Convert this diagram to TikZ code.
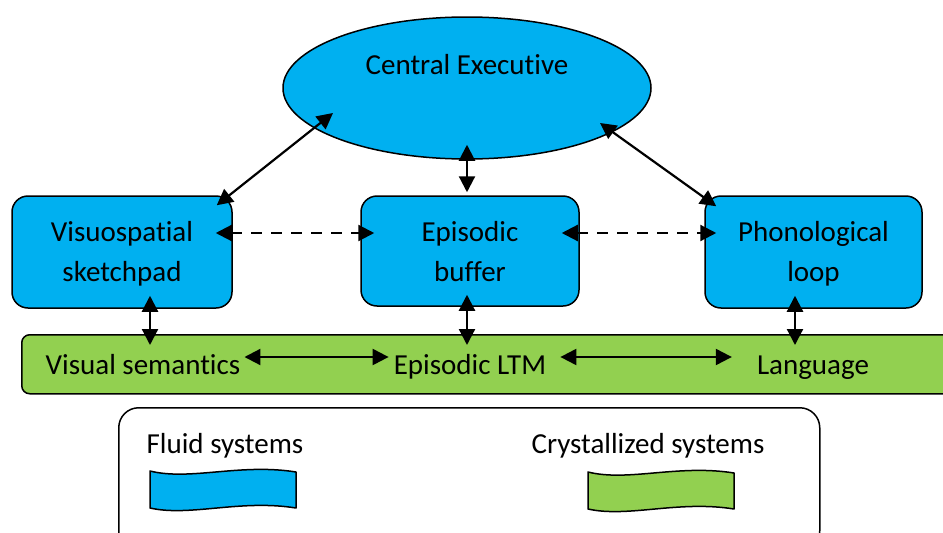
\documentclass[tikz,border=0pt]{standalone}
\usepackage{fontspec}
\setmainfont{Carlito}[Ligatures=NoCommon]
\usetikzlibrary{shapes.geometric}
\usetikzlibrary{arrows.meta}
\usetikzlibrary{calc}

\definecolor{fluidblue}{HTML}{00B0F0}
\definecolor{crystgreen}{HTML}{92D050}

\begin{document}
\begin{tikzpicture}[x=1pt,y=-1pt,
 font=\fontsize{29}{40}\selectfont,
 fluid/.style={draw,line width=1.5pt,fill=fluidblue,rounded corners=16pt,align=center},
 crystal/.style={draw,line width=1.5pt,fill=crystgreen,rounded corners=8pt},
 label text/.style={inner sep=2pt,anchor=base},
 link/.style={line width=2.2pt,{Triangle[length=16pt,width=16pt]}-{Triangle[length=16pt,width=16pt]}},
 weak/.style={link,dash pattern=on 11pt off 9pt},
 ribbon/.style={line width=1.5pt,line join=round}]
\useasboundingbox (0,0) rectangle (943,533);
\clip (0,0) rectangle (943,533);
% central executive
 \node[ellipse,draw,line width=1.5pt,fill=fluidblue,minimum width=368pt,minimum height=142pt] (ce) at (467,88) {};
 \node[label text] (cetxt) at (467,74) {Central Executive};
% slave systems
 \node[fluid,minimum width=220pt,minimum height=112pt] (vss) at (122,252) {};
 \node[fluid,minimum width=218pt,minimum height=110pt] (eb) at (470,251) {};
 \node[fluid,minimum width=217pt,minimum height=112pt] (pl) at (813.5,252) {};
 \node[align=center] (vsstxt) at (122,254) {Visuospatial\\sketchpad};
 \node[align=center] (ebtxt) at (470,252) {Episodic\\buffer};
 \node[align=center] (pltxt) at (813.5,254) {Phonological\\loop};
% long-term stores
 \node[crystal,minimum width=960pt,minimum height=59pt,anchor=north west] (ltm) at (21,334) {};
 \node[label text] (vsem) at (143,374) {Visual semantics};
 \node[label text] (eltm) at (470,374) {Episodic LTM};
 \node[label text] (lang) at (813,374) {Language};
% executive links
 \draw[link] ([shift={(-134,25)}]ce.center) -- ([shift={(-16,10)}]vss.north east);
 \draw[link] ([shift={(133,35)}]ce.center) -- ([shift={(12,11)}]pl.north west);
 \draw[link] ([shift={(0,-15)}]ce.south) -- ($(ce.south |- eb.north)+(0,-3)$);
% buffer links
 \draw[weak] ([shift={(-17,-19)}]vss.east) -- ([shift={(14,-18)}]eb.west);
 \draw[weak] ([shift={(-18,-18)}]eb.east) -- ([shift={(12,-19)}]pl.west);
% down to long-term memory
 \draw[link] ([shift={(28,-13)}]vss.south) -- ($(vss.south |- ltm.north)+(28,11)$);
 \draw[link] ([shift={(-3,-12)}]eb.south) -- ($(eb.south |- ltm.north)+(-3,11)$);
 \draw[link] ([shift={(-18.5,-13)}]pl.south) -- ($(pl.south |- ltm.north)+(-18.5,11)$);
% along long-term memory
 \draw[link] ([shift={(2,-17)}]vsem.base east) -- ([shift={(-3,-17)}]eltm.base west);
 \draw[link] ([shift={(12,-17)}]eltm.base east) -- ([shift={(-23,-17)}]lang.base west);
% key
 \node[draw,line width=1.5pt,rounded corners=20pt,minimum width=701pt,minimum height=143pt,anchor=north west] (key) at (118,407) {};
 \node[label text] (fluidtxt) at (225,453) {Fluid systems};
 \node[label text] (crysttxt) at (648,453) {Crystallized systems};
\begin{scope}[shift={(150,471)}]
 \draw[ribbon,fill=fluidblue] (0,0) .. controls (40,10) and (90,-8) .. (146,1) -- (146,37) .. controls (90,28) and (40,46) .. (0,37) -- cycle;
\end{scope}
\begin{scope}[shift={(588,472)}]
 \draw[ribbon,fill=crystgreen] (0,0) .. controls (40,10) and (90,-8) .. (146,1) -- (146,37) .. controls (90,28) and (40,46) .. (0,37) -- cycle;
\end{scope}
\end{tikzpicture}
\end{document}
